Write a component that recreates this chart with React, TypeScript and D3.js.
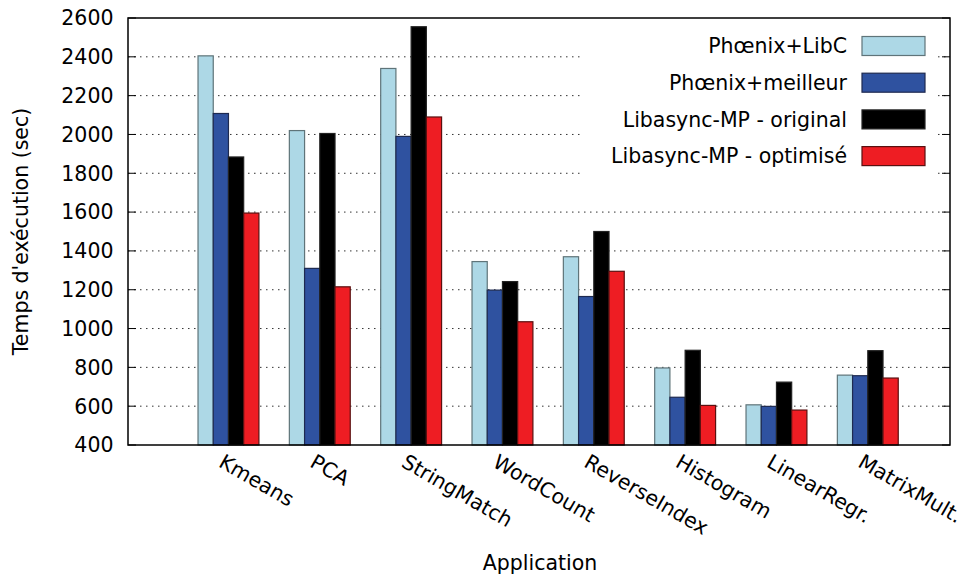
import React, { useEffect, useRef } from 'react';
import * as d3 from 'd3';

const apps = ['Kmeans', 'PCA', 'StringMatch', 'WordCount', 'ReverseIndex', 'Histogram', 'LinearRegr.', 'MatrixMult.'];
const seriesNames = ['Phœnix+LibC', 'Phœnix+meilleur', 'Libasync-MP - original', 'Libasync-MP - optimisé'];
const phoenixLibc = [2405, 2020, 2340, 1345, 1370, 797, 607, 760];
const phoenixBest = [2108, 1310, 1990, 1198, 1165, 646, 599, 757];
const libasyncOrig = [1884, 2005, 2555, 1242, 1500, 888, 724, 886];
const libasyncOpt = [1595, 1215, 2090, 1035, 1295, 604, 580, 745];
const yTicks = [400, 600, 800, 1000, 1200, 1400, 1600, 1800, 2000, 2200, 2400, 2600];

const colors = ['#add8e6', '#2f52a0', '#000000', '#ee1d23'];
const strokes = ['#5f7479', '#1e2a50', '#222222', '#5a1010'];

const W = 965;
const H = 578;
const margin = { top: 18, right: 15, bottom: 133, left: 128 };
const fs = 20.5;

const App: React.FC = () => {
	const ref = useRef<SVGSVGElement>(null);

	useEffect(() => {
		const svg = d3.select(ref.current);
		svg.selectAll('*').remove();
		const innerW = W - margin.left - margin.right;
		const innerH = H - margin.top - margin.bottom;
		const font = 'DejaVu Sans, sans-serif';

		const all = [phoenixLibc, phoenixBest, libasyncOrig, libasyncOpt];

		const x = d3.scaleLinear().domain([-1.1, 7.9]).range([0, innerW]);
		const y = d3.scaleLinear().domain([400, 2600]).range([innerH, 0]);
		const bw = x(1 / 6) - x(0);

		const g = svg.append('g').attr('transform', `translate(${margin.left},${margin.top})`);

		// grid
		g.selectAll('.grid')
			.data(yTicks.slice(1, -1))
			.enter()
			.append('line')
			.attr('x1', 0)
			.attr('x2', innerW)
			.attr('y1', (d) => y(d))
			.attr('y2', (d) => y(d))
			.attr('stroke', '#333')
			.attr('stroke-width', 1)
			.attr('stroke-dasharray', '1.5,4.5');

		// legend box hides grid
		g.append('rect')
			.attr('x', 455)
			.attr('y', 10)
			.attr('width', 352)
			.attr('height', 156)
			.attr('fill', '#fff');

		// bars
		all.forEach((vals, s) => {
			g.selectAll('.bar' + s)
				.data(vals)
				.enter()
				.append('rect')
				.attr('x', (d, i) => x(i) + (s - 2) * bw)
				.attr('y', (d) => y(d))
				.attr('width', bw)
				.attr('height', (d) => innerH - y(d))
				.attr('fill', colors[s])
				.attr('stroke', strokes[s])
				.attr('stroke-width', 1.2);
		});

		// ticks
		yTicks.forEach((t) => {
			g.append('line').attr('x1', 0).attr('x2', 8).attr('y1', y(t)).attr('y2', y(t)).attr('stroke', '#000');
			g.append('line')
				.attr('x1', innerW - 8)
				.attr('x2', innerW)
				.attr('y1', y(t))
				.attr('y2', y(t))
				.attr('stroke', '#000');
			g.append('text')
				.attr('x', -14.5)
				.attr('y', y(t))
				.attr('dy', '0.36em')
				.attr('text-anchor', 'end')
				.attr('font-family', font)
				.attr('font-size', fs)
				.text(t);
		});

		// frame
		g.append('rect')
			.attr('width', innerW)
			.attr('height', innerH)
			.attr('fill', 'none')
			.attr('stroke', '#000')
			.attr('stroke-width', 1.5);

		// x labels
		apps.forEach((a, i) => {
			g.append('text')
				.attr('transform', `translate(${x(i) - 11},${innerH + 21}) rotate(30)`)
				.attr('font-family', font)
				.attr('font-size', fs)
				.text(a);
		});

		// axis titles
		svg.append('text')
			.attr('transform', `translate(28,${margin.top + innerH / 2}) rotate(-90)`)
			.attr('text-anchor', 'middle')
			.attr('font-family', font)
			.attr('font-size', fs)
			.text("Temps d'exécution (sec)");
		svg.append('text')
			.attr('x', 540)
			.attr('y', 570)
			.attr('text-anchor', 'middle')
			.attr('font-family', font)
			.attr('font-size', fs)
			.text('Application');

		// legend
		seriesNames.forEach((n, s) => {
			const ly = 18.5 + s * 36.7;
			g.append('rect')
				.attr('x', 734)
				.attr('y', ly)
				.attr('width', 63)
				.attr('height', 19)
				.attr('fill', colors[s])
				.attr('stroke', strokes[s])
				.attr('stroke-width', 1.2);
			g.append('text')
				.attr('x', 719)
				.attr('y', ly + 9.5)
				.attr('dy', '0.36em')
				.attr('text-anchor', 'end')
				.attr('font-family', font)
				.attr('font-size', fs)
				.text(n);
		});
	}, []);

	return (
		<svg
			ref={ref}
			width={W}
			height={H}
			style={{ position: 'absolute', left: 0, top: 0, background: '#fff' }}
		/>
	);
};

export default App;
